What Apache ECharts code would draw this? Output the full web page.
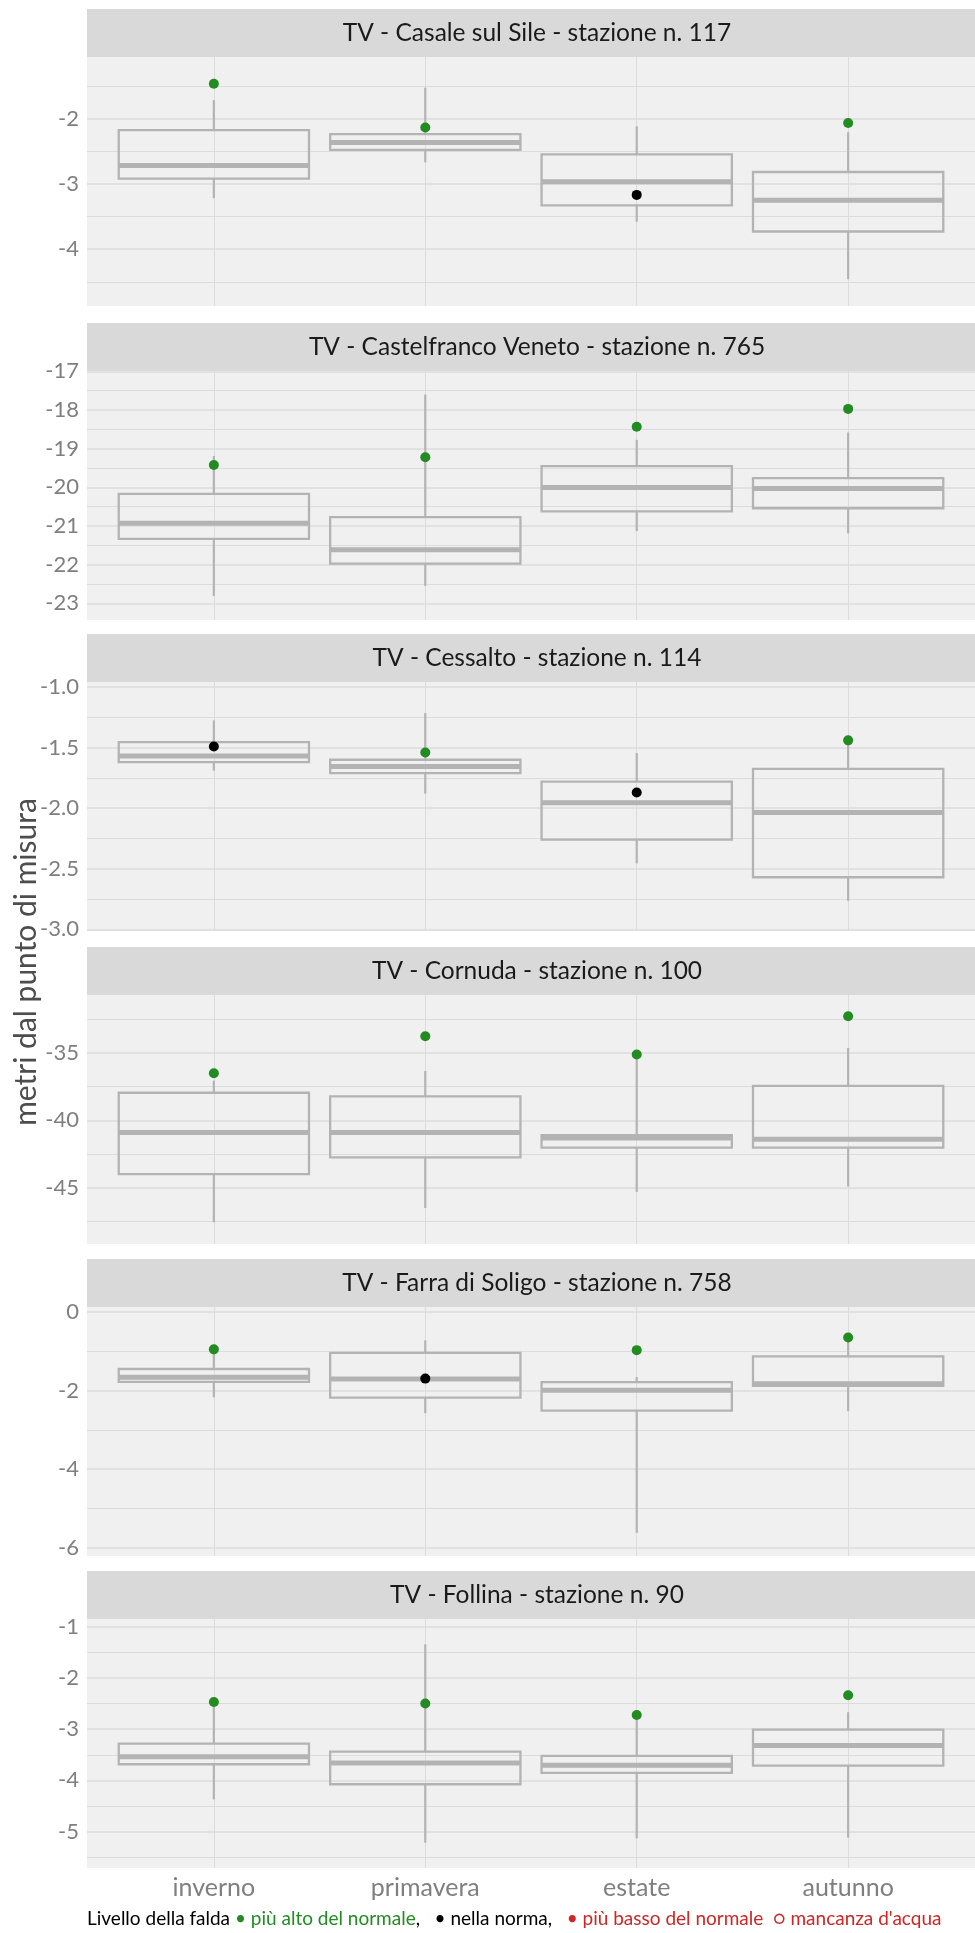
<!DOCTYPE html>
<html>
<head>
<meta charset="utf-8">
<script src="https://cdn.jsdelivr.net/npm/echarts@6/dist/echarts.min.js"></script>
<style>
html, body { margin: 0; padding: 0; background: #ffffff; }
#chart { width: 975px; height: 1933px; }
</style>
</head>
<body>
<div id="chart"></div>
<script>
// ---------------- data ----------------
const seasons = ['inverno', 'primavera', 'estate', 'autunno'];

const stationNames = [
  'TV - Casale sul Sile - stazione n. 117',
  'TV - Castelfranco Veneto - stazione n. 765',
  'TV - Cessalto - stazione n. 114',
  'TV - Cornuda - stazione n. 100',
  'TV - Farra di Soligo - stazione n. 758',
  'TV - Follina - stazione n. 90'
];

// box statistics per season: [lower whisker, Q1, median, Q3, upper whisker]
const casaleBox = [
  [-3.22, -2.92, -2.72, -2.18, -1.72],
  [-2.67, -2.48, -2.37, -2.24, -1.53],
  [-3.58, -3.33, -2.97, -2.55, -2.12],
  [-4.46, -3.73, -3.25, -2.82, -2.21]
];
const casalePoint = [-1.47, -2.14, -3.17, -2.07];
const casaleStatus = ['alto', 'alto', 'norma', 'alto'];

const castelfrancoBox = [
  [-22.81, -21.33, -20.93, -20.17, -19.19],
  [-22.55, -21.97, -21.61, -20.77, -17.60],
  [-21.13, -20.62, -20.00, -19.45, -18.77],
  [-21.19, -20.54, -20.03, -19.76, -18.58]
];
const castelfrancoPoint = [-19.42, -19.22, -18.43, -17.97];
const castelfrancoStatus = ['alto', 'alto', 'alto', 'alto'];

const cessaltoBox = [
  [-1.69, -1.62, -1.57, -1.455, -1.275],
  [-1.88, -1.71, -1.655, -1.60, -1.215],
  [-2.455, -2.26, -1.955, -1.78, -1.545],
  [-2.765, -2.57, -2.035, -1.675, -1.47]
];
const cessaltoPoint = [-1.49, -1.54, -1.87, -1.44];
const cessaltoStatus = ['norma', 'alto', 'norma', 'alto'];

const cornudaBox = [
  [-47.55, -43.98, -40.90, -37.95, -37.05],
  [-46.50, -42.75, -40.90, -38.22, -36.34],
  [-45.30, -42.02, -41.30, -41.09, -35.45],
  [-44.90, -42.02, -41.40, -37.44, -34.63]
];
const cornudaPoint = [-36.50, -33.76, -35.12, -32.27];
const cornudaStatus = ['alto', 'alto', 'alto', 'alto'];

const farraBox = [
  [-2.17, -1.78, -1.66, -1.45, -0.90],
  [-2.575, -2.18, -1.705, -1.04, -0.72],
  [-5.62, -2.51, -1.99, -1.785, -1.655],
  [-2.525, -1.88, -1.825, -1.13, -0.75]
];
const farraPoint = [-0.95, -1.695, -0.97, -0.65];
const farraStatus = ['alto', 'norma', 'alto', 'alto'];

const follinaBox = [
  [-4.37, -3.685, -3.537, -3.283, -2.56],
  [-5.215, -4.075, -3.66, -3.44, -1.344],
  [-5.13, -3.855, -3.705, -3.523, -2.79],
  [-5.117, -3.71, -3.32, -3.01, -2.67]
];
const follinaPoint = [-2.47, -2.50, -2.723, -2.34];
const follinaStatus = ['alto', 'alto', 'alto', 'alto'];

// y axis ranges and tick steps per panel
const yRanges = [[-4.87, -1.06], [-23.43, -16.99], [-3.014, -0.958], [-49.17, -30.70], [-6.21, 0.128], [-5.71, -0.85]];
const yTickSteps = [1, 1, 0.5, 5, 2, 1];

const legendLabel = 'Livello della falda';
const legendItems = ['più alto del normale', 'nella norma', 'più basso del normale', 'mancanza d\'acqua'];
const yTitle = 'metri dal punto di misura';

// ---------------- layout / styles ----------------
const boxes = [casaleBox, castelfrancoBox, cessaltoBox, cornudaBox, farraBox, follinaBox];
const points = [casalePoint, castelfrancoPoint, cessaltoPoint, cornudaPoint, farraPoint, follinaPoint];
const statuses = [casaleStatus, castelfrancoStatus, cessaltoStatus, cornudaStatus, farraStatus, follinaStatus];

const PLOT_TOPS = [57, 371, 682, 995, 1307, 1619];
const PLOT_H = 249;
const STRIP_H = 48;
const LEFT = 87;
const PANEL_W = 900;
const FONT = 'Lato, "Noto Sans", sans-serif';
const BOX_COLOR = '#b3b3b3';
const GRID_COLOR = '#dcdcdc';
const STATUS_COLOR = { alto: '#228B22', norma: '#000000', basso: '#CD2626' };

function renderBox(params, api) {
  const x = api.value(0);
  const pLo = api.coord([x, api.value(1)]);
  const pQ1 = api.coord([x, api.value(2)]);
  const pMed = api.coord([x, api.value(3)]);
  const pQ3 = api.coord([x, api.value(4)]);
  const pHi = api.coord([x, api.value(5)]);
  const unit = api.size([1, 0])[0];
  const half = unit * 0.45;
  const cx = pMed[0];
  const wStyle = { stroke: BOX_COLOR, lineWidth: 2.2, fill: null };
  return {
    type: 'group',
    children: [
      { type: 'line', shape: { x1: cx, y1: pHi[1], x2: cx, y2: pQ3[1] }, style: wStyle },
      { type: 'line', shape: { x1: cx, y1: pQ1[1], x2: cx, y2: pLo[1] }, style: wStyle },
      { type: 'rect', shape: { x: cx - half, y: pQ3[1], width: 2 * half, height: pQ1[1] - pQ3[1] },
        style: { stroke: BOX_COLOR, lineWidth: 2.3, fill: 'rgba(0,0,0,0)' } },
      { type: 'line', shape: { x1: cx - half, y1: pMed[1], x2: cx + half, y2: pMed[1] },
        style: { stroke: BOX_COLOR, lineWidth: 5 } }
    ]
  };
}

const grids = [], xAxes = [], yAxes = [], series = [], graphics = [];

stationNames.forEach(function (name, i) {
  const top = PLOT_TOPS[i];
  grids.push({ left: LEFT, top: top, width: PANEL_W, height: PLOT_H, show: true,
    backgroundColor: '#f0f0f0', borderWidth: 0 });

  xAxes.push({
    gridIndex: i, type: 'value', min: -0.6, max: 3.6, minInterval: 1, maxInterval: 1,
    axisLine: { show: false }, axisTick: { show: false },
    axisLabel: {
      show: i === stationNames.length - 1, showMinLabel: false, showMaxLabel: false,
      color: '#7f7f7f', fontSize: 25, fontFamily: FONT, margin: 7,
      formatter: function (v) { return Number.isInteger(v) && seasons[v] ? seasons[v] : ''; }
    },
    splitLine: { show: true, showMinLine: false, showMaxLine: false, lineStyle: { color: GRID_COLOR, width: 1 } }
  });

  const step = yTickSteps[i];
  yAxes.push({
    gridIndex: i, type: 'value', min: yRanges[i][0], max: yRanges[i][1],
    minInterval: step, maxInterval: step,
    axisLine: { show: false }, axisTick: { show: false },
    axisLabel: {
      showMinLabel: false, showMaxLabel: false,
      color: '#7f7f7f', fontSize: 22, fontFamily: FONT, margin: 8,
      formatter: function (v) {
        const r = Math.round(v / step);
        if (Math.abs(v / step - r) > 1e-6) return '';
        return step < 1 ? v.toFixed(1) : String(Math.round(v));
      }
    },
    splitLine: { show: true, showMinLine: false, showMaxLine: false, lineStyle: { color: GRID_COLOR, width: 1.5 } },
    minorTick: { show: false, splitNumber: 2 },
    minorSplitLine: { show: true, lineStyle: { color: GRID_COLOR, width: 1 } }
  });

  series.push({
    type: 'custom', xAxisIndex: i, yAxisIndex: i, renderItem: renderBox, z: 2,
    encode: { x: 0, y: [1, 2, 3, 4, 5] },
    data: boxes[i].map(function (b, k) { return [k].concat(b); })
  });

  series.push({
    type: 'scatter', xAxisIndex: i, yAxisIndex: i, symbolSize: 10, z: 3,
    data: points[i].map(function (v, k) {
      return { value: [k, v], itemStyle: { color: STATUS_COLOR[statuses[i][k]], opacity: 1 } };
    })
  });

  // strip header
  graphics.push({ type: 'rect', shape: { x: LEFT, y: top - STRIP_H, width: PANEL_W, height: STRIP_H },
    style: { fill: '#d9d9d9' }, silent: true });
  graphics.push({ type: 'text', x: LEFT + PANEL_W / 2, y: top - STRIP_H / 2,
    style: { text: name, font: '24.5px ' + FONT, fill: '#1a1a1a', textAlign: 'center', textVerticalAlign: 'middle' } });
});

// y axis title
graphics.push({ type: 'text', x: 26, y: 962, rotation: Math.PI / 2,
  style: { text: yTitle, font: '30px ' + FONT, fill: '#4d4d4d', textAlign: 'center', textVerticalAlign: 'middle' } });

// legend caption
graphics.push({ type: 'text', x: 87, y: 1919,
  style: {
    text: '{b|' + legendLabel + ' }{g|• ' + legendItems[0] + '}{b|,   • ' + legendItems[1] + ',   }{r|• ' + legendItems[2] + '  ○ ' + legendItems[3] + '}',
    textAlign: 'left', textVerticalAlign: 'middle',
    rich: {
      b: { fill: '#000000', fontSize: 19, fontFamily: FONT },
      g: { fill: '#228B22', fontSize: 19, fontFamily: FONT },
      r: { fill: '#CD2626', fontSize: 19, fontFamily: FONT }
    }
  } });

const chart = echarts.init(document.getElementById('chart'), null, { renderer: 'canvas' });
chart.setOption({
  animation: false,
  backgroundColor: '#ffffff',
  grid: grids,
  xAxis: xAxes,
  yAxis: yAxes,
  series: series,
  graphic: { elements: graphics }
});
</script>
</body>
</html>
